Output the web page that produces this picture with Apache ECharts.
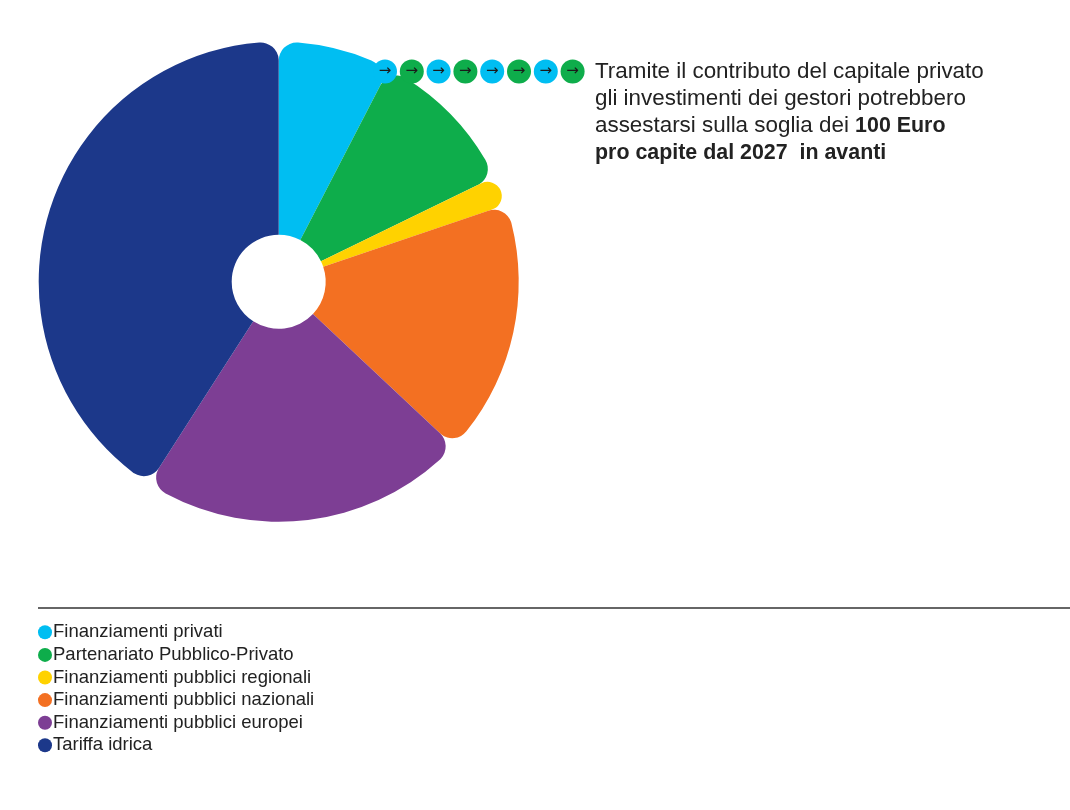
<!DOCTYPE html>
<html>
<head>
<meta charset="utf-8">
<script src="https://cdn.jsdelivr.net/npm/echarts@6/dist/echarts.min.js"></script>
<style>
html,body{margin:0;padding:0;background:#fff;}
#c{width:1070px;height:810px;}
</style>
</head>
<body>
<div id="c"></div>
<script>
const categories = ['Finanziamenti privati', 'Partenariato Pubblico-Privato', 'Finanziamenti pubblici regionali', 'Finanziamenti pubblici nazionali', 'Finanziamenti pubblici europei', 'Tariffa idrica'];
const values = [7.6, 10.2, 2.0, 17.2, 22.1, 40.9];
const colors = ['#00BEF2', '#0EAD4B', '#FFD200', '#F37022', '#7D3E94', '#1C388A'];
const noteLines = [
  [['n', 'Tramite il contributo del capitale privato']],
  [['n', 'gli investimenti dei gestori potrebbero']],
  [['n', 'assestarsi sulla soglia dei '], ['b', '100 Euro']],
  [['b', 'pro capite dal 2027  in avanti']]
];
const arrowColors = ['#00BEF2', '#0EAD4B', '#00BEF2', '#0EAD4B', '#00BEF2', '#0EAD4B', '#00BEF2', '#0EAD4B'];

const chart = echarts.init(document.getElementById('c'), null, {renderer: 'canvas'});
const FONT = '"Liberation Sans", Arial, sans-serif';

const arrowEls = [];
arrowColors.forEach((c, i) => {
  const cx = 385 + i * 26.8, cy = 71.5;
  arrowEls.push({type: 'circle', z: 10, shape: {cx: cx, cy: cy, r: 12}, style: {fill: c}});
  arrowEls.push({type: 'text', z: 11, x: cx, y: cy, style: {text: '→', fill: '#1a1a1a', font: '15px "DejaVu Sans"', align: 'center', verticalAlign: 'middle'}});
});

const noteText = noteLines.map(l => l.map(p => '{' + p[0] + '|' + p[1] + '}').join('')).join('\n');

chart.setOption({
  animation: false,
  color: colors,
  legend: {
    orient: 'vertical',
    left: 38,
    top: 621.3,
    padding: 0,
    icon: 'circle',
    itemWidth: 14,
    itemHeight: 14,
    itemGap: 0.6,
    selectedMode: false,
    data: categories,
    textStyle: {fontFamily: FONT, fontSize: 18.5, color: '#222', lineHeight: 22, padding: [0, 0, 0, -4]}
  },
  series: [{
    type: 'pie',
    center: [278.7, 281.8],
    radius: [47, 240],
    startAngle: 90,
    clockwise: true,
    label: {show: false},
    labelLine: {show: false},
    emphasis: {disabled: true},
    itemStyle: {borderRadius: [0, 18], borderWidth: 0},
    data: categories.map((n, i) => ({name: n, value: values[i]}))
  }],
  graphic: [
    {type: 'line', shape: {x1: 38, y1: 608, x2: 1070, y2: 608}, style: {stroke: '#333', lineWidth: 1.5}},
    {type: 'group', children: arrowEls},
    {type: 'text', x: 595, y: 58.5, z: 10, style: {
      text: noteText,
      rich: {
        n: {fontFamily: FONT, fontSize: 22.4, fill: '#222', lineHeight: 27},
        b: {fontFamily: FONT, fontSize: 21.4, fontWeight: 'bold', fill: '#222', lineHeight: 27}
      }
    }}
  ]
});
</script>
</body>
</html>
